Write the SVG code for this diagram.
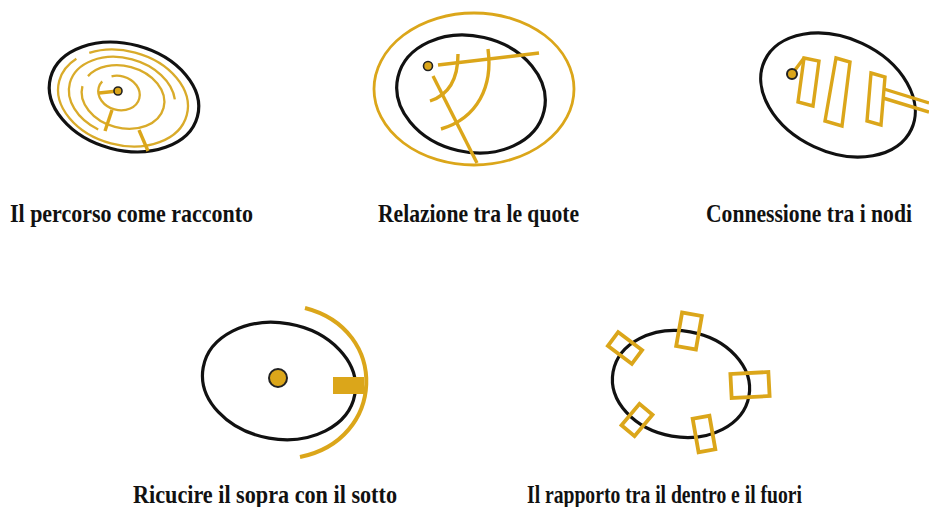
<svg xmlns="http://www.w3.org/2000/svg" width="929" height="507" viewBox="0 0 929 507">
<style>
.bk{fill:none;stroke:#111;stroke-width:3.2}
.g{fill:none;stroke:#DBA61A;stroke-width:3.4;stroke-linecap:butt}
.gt{fill:none;stroke:#D9AB2A;stroke-width:2.3}
.gf{fill:#DBA61A}
.dot{fill:#DBA61A;stroke:#222;stroke-width:1.6}
.lbl{font-family:"Liberation Serif","Times New Roman",serif;font-weight:bold;font-size:25px;fill:#111}
</style>
<rect width="929" height="507" fill="#fff"/>

<g id="node-percorso">
  <ellipse class="bk" cx="124" cy="97" rx="76" ry="53" transform="rotate(15 124 97)"/>
  <ellipse class="gt" cx="123" cy="98" rx="66" ry="47" transform="rotate(15 123 98)" pathLength="100" stroke-dasharray="58 4 100"/>
  <ellipse class="gt" cx="122" cy="97" rx="54" ry="39" transform="rotate(15 122 97)" pathLength="100" stroke-dasharray="0 30 66 4"/>
  <ellipse class="gt" cx="123" cy="97" rx="42" ry="31" transform="rotate(15 123 97)" pathLength="100" stroke-dasharray="50 5 100"/>
  <ellipse class="gt" cx="119" cy="93" rx="21" ry="17" transform="rotate(15 119 93)" pathLength="100" stroke-dasharray="56 9 100"/>
  <line class="g" x1="118" y1="91" x2="99" y2="93"/>
  <line class="g" x1="112" y1="110" x2="105" y2="131"/>
  <line class="g" x1="139" y1="130" x2="148" y2="151"/>
  <circle class="dot" cx="118" cy="91" r="4"/>
  <text class="lbl" x="10" y="222" textLength="243" lengthAdjust="spacingAndGlyphs">Il percorso come racconto</text>
</g>

<g id="node-quote">
  <ellipse class="g" cx="474" cy="89" rx="100" ry="76" style="stroke-width:2.8"/>
  <ellipse class="bk" cx="471" cy="94" rx="75" ry="58" transform="rotate(13 471 94)"/>
  <line class="g" x1="438" y1="65" x2="539" y2="53"/>
  <line class="g" x1="433" y1="76" x2="477" y2="163"/>
  <path class="g" d="M458,54 Q458,92 430,101"/>
  <path class="g" d="M488,49 C493,86 478,118 441,129"/>
  <circle class="dot" cx="428" cy="66" r="4.5"/>
  <text class="lbl" x="378" y="222" textLength="201" lengthAdjust="spacingAndGlyphs">Relazione tra le quote</text>
</g>

<g id="node-nodi">
  <ellipse class="bk" cx="838" cy="95" rx="81" ry="57" transform="rotate(25 838 95)"/>
  <line class="g" x1="795" y1="70" x2="804" y2="58"/>
  <polygon class="g" points="804,58 819,61 813,106 798,102"/>
  <polygon class="g" points="836,58 850,62 842,126 825,121"/>
  <polygon class="g" points="871,73 885,77 881,125 867,121"/>
  <line class="g" x1="884" y1="89" x2="929" y2="103"/>
  <line class="g" x1="883" y1="98" x2="929" y2="112"/>
  <circle class="dot" cx="792" cy="74" r="5" style="stroke-width:2"/>
  <text class="lbl" transform="translate(706 222) scale(0.865 1)" x="0" y="0">Connessione tra i nodi</text>
</g>

<g id="node-ricucire">
  <ellipse class="bk" cx="279" cy="381" rx="77" ry="58" transform="rotate(10 279 381)"/>
  <path class="g" d="M305,308 C390,330 385,440 300,457" style="stroke-width:4"/>
  <rect class="gf" x="333" y="377" width="31" height="17"/>
  <circle class="dot" cx="278" cy="378" r="9" style="stroke-width:2"/>
  <text class="lbl" x="133" y="503" textLength="264" lengthAdjust="spacingAndGlyphs">Ricucire il sopra con il sotto</text>
</g>

<g id="node-dentro-fuori">
  <ellipse class="bk" cx="681" cy="384" rx="69" ry="53" transform="rotate(10 681 384)"/>
  <rect class="g" x="-15" y="-8.5" width="30" height="17" transform="translate(625 348) rotate(37)" style="stroke-width:3.8"/>
  <rect class="g" x="-10" y="-17" width="20" height="34" transform="translate(689 331) rotate(10)" style="stroke-width:3.8"/>
  <rect class="g" x="-19" y="-12" width="38" height="24" transform="translate(750 385) rotate(-3)" style="stroke-width:3.8"/>
  <rect class="g" x="-14" y="-8.5" width="28" height="17" transform="translate(637 420) rotate(-50)" style="stroke-width:3.8"/>
  <rect class="g" x="-8.5" y="-17" width="17" height="34" transform="translate(704 434) rotate(-10)" style="stroke-width:3.8"/>
  <text class="lbl" x="527" y="503" textLength="275" lengthAdjust="spacingAndGlyphs">Il rapporto tra il dentro e il fuori</text>
</g>

<g id="connectors"/>
</svg>
